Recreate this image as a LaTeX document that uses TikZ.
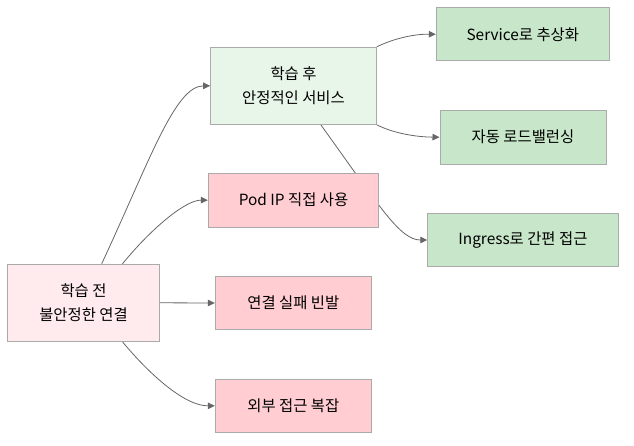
\documentclass[tikz,border=0pt]{standalone}
\usepackage{fontspec}
\setmainfont{Noto Sans CJK KR}
\usepackage{tikz}
\usetikzlibrary{arrows.meta,backgrounds}

\definecolor{prefill}{HTML}{FFEBEE}
\definecolor{badfill}{HTML}{FFCDD2}
\definecolor{postfill}{HTML}{E8F5E9}
\definecolor{goodfill}{HTML}{C8E6C9}
\definecolor{boxline}{HTML}{AAAAAA}
\definecolor{edgeline}{HTML}{666666}

\tikzset{
  box/.style={draw=boxline,line width=1pt,rectangle,align=center,
    font=\fontsize{15.4}{24.7}\selectfont,inner sep=0pt},
  edge/.style={draw=edgeline,line width=0.8pt,-{Triangle[length=7pt,width=6.5pt]}}
}

\begin{document}
\begin{tikzpicture}[x=1pt,y=-1pt]
\useasboundingbox (0,0) rectangle (634,446);

\node[box,fill=prefill,minimum width=151.6pt,minimum height=77pt] (pre) at (83.5,302.8) {학습 전\\불안정한 연결};
\node[box,fill=postfill,minimum width=165.6pt,minimum height=77pt] (post) at (293.5,85.8) {학습 후\\안정적인 서비스};
\node[box,fill=badfill,minimum width=170.4pt,minimum height=53.7pt] (pod) at (293.5,200.2) {Pod IP 직접 사용};
\node[box,fill=badfill,minimum width=156pt,minimum height=53.4pt] (fail) at (293.3,303) {연결 실패 빈발};
\node[box,fill=badfill,minimum width=156pt,minimum height=53pt] (ext) at (293.3,405.8) {외부 접근 복잡};
\node[box,fill=goodfill,minimum width=173pt,minimum height=53.3pt] (svc) at (522.8,34.3) {Service로 추상화};
\node[box,fill=goodfill,minimum width=166pt,minimum height=53.7pt] (lb) at (523,137.2) {자동 로드밸런싱};
\node[box,fill=goodfill,minimum width=190.3pt,minimum height=53.4pt] (ing) at (522.9,240) {Ingress로 간편 접근};

\draw[edge] (pre.65) .. controls (150,160) and (175,86) .. (post.west);
\draw[edge] (pre.45) .. controls (150,230) and (185,200) .. (pod.west);
\draw[edge] (pre.east) -- (fail.west);
\draw[edge] (pre.-45) .. controls (150,375) and (185,406) .. (ext.west);

\draw[edge] (post.north east) .. controls (395,38) and (415,34) .. (svc.west);
\draw[edge] (post.south east) .. controls (395,134) and (418,137) .. (lb.west);
% runs behind the Pod box
\begin{pgfonlayer}{background}
\draw[edge] (post.-55) .. controls (380,207) and (400,240) .. (ing.west);
\end{pgfonlayer}
\end{tikzpicture}
\end{document}
